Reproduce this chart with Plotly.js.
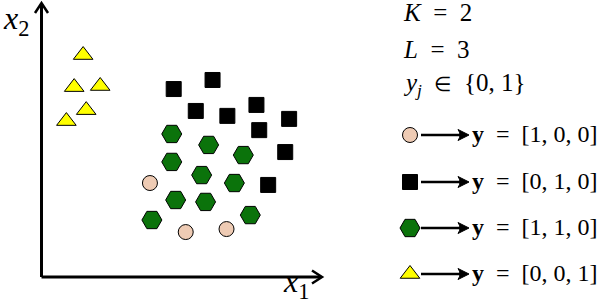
<!DOCTYPE html>
<html>
<head>
<meta charset="utf-8">
<script src="https://cdn.plot.ly/plotly-3.0.1.min.js"></script>
<style>html,body{margin:0;padding:0;background:#fff;}#chart{width:602px;height:304px;}</style>
</head>
<body>
<div id="chart"></div>
<script>
// ---- data (axis units 0..10) ----
const circleX = [3.88, 5.16, 6.62];
const circleY = [3.43, 1.64, 1.75];
const squareX = [4.73, 6.12, 5.52, 6.65, 7.69, 8.86, 7.79, 8.72, 8.11];
const squareY = [6.86, 7.19, 6.06, 5.88, 6.28, 5.77, 5.36, 4.56, 3.36];
const hexX = [4.66, 5.98, 7.22, 4.66, 5.73, 6.90, 4.80, 5.87, 7.47, 3.95];
const hexY = [5.22, 4.82, 4.45, 4.20, 3.72, 3.43, 2.81, 2.74, 2.26, 2.08];
const triX = [1.49, 1.17, 2.10, 1.60, 0.89];
const triY = [8.10, 6.93, 6.97, 6.09, 5.69];
const classLabels = ["[1, 0, 0]", "[0, 1, 0]", "[1, 1, 0]", "[0, 0, 1]"];
const infoLines = ["<i>K</i>\u2002=\u20022", "<i>L</i>\u2002=\u20023",
                   "<i>y<sub>j</sub></i>\u2002<span style=\"font-size:20px\">\u2208</span>\u2002{0, 1}"];

// ---- layout helpers (pixel -> paper) ----
const W = 602, H = 304;
const px = x => x / W;
const py = y => 1 - y / H;
const FONT = "Liberation Serif";

const styles = [
  {symbol: "circle", size: 15, color: "#EECBB4"},
  {symbol: "square", size: 15, color: "#000000"},
  {symbol: "hexagon2", size: 20, color: "#0B730B"},
  {symbol: "triangle-up", size: 17, color: "#FFFF00"}
];
const seriesX = [circleX, squareX, hexX, triX];
const seriesY = [circleY, squareY, hexY, triY];

const traces = seriesX.map((xs, i) => ({
  type: "scatter", mode: "markers", x: xs, y: seriesY[i],
  xaxis: "x", yaxis: "y", cliponaxis: false, hoverinfo: "skip",
  marker: {symbol: styles[i].symbol, size: styles[i].size, color: styles[i].color, opacity: 1,
           line: {color: "#000", width: 1}}
}));

// legend keys on a pixel-like overlay axis
const legendRowsY = [135, 182, 228, 274];
const legendKeyX = 410;
traces.push({
  type: "scatter", mode: "markers",
  x: legendRowsY.map(() => legendKeyX), y: legendRowsY,
  xaxis: "x2", yaxis: "y2", cliponaxis: false, hoverinfo: "skip",
  marker: {symbol: styles.map(s => s.symbol), size: styles.map(s => s.size), opacity: 1,
           color: styles.map(s => s.color), line: {color: "#000", width: 1}}
});

const shapes = [
  // axes
  {type: "line", xref: "paper", yref: "paper", x0: px(41.5), y0: py(277), x1: px(41.5), y1: py(4), line: {color: "#000", width: 3}},
  {type: "line", xref: "paper", yref: "paper", x0: px(41.5), y0: py(277), x1: px(321), y1: py(277), line: {color: "#000", width: 3}},
  // arrow heads
  {type: "path", xref: "paper", yref: "paper",
   path: `M ${px(35)} ${py(13)} L ${px(41.5)} ${py(3)} L ${px(48)} ${py(13)}`, line: {color: "#000", width: 2.5}},
  {type: "path", xref: "paper", yref: "paper",
   path: `M ${px(312)} ${py(270.5)} L ${px(322)} ${py(277)} L ${px(312)} ${py(283.5)}`, line: {color: "#000", width: 2.5}}
];
// legend arrows (long right arrows)
legendRowsY.forEach(yc => {
  shapes.push({type: "line", xref: "paper", yref: "paper", x0: px(421), y0: py(yc), x1: px(464), y1: py(yc),
               line: {color: "#000", width: 2.5}});
  shapes.push({type: "path", xref: "paper", yref: "paper",
               path: `M ${px(469)} ${py(yc)} L ${px(458)} ${py(yc - 5.5)} Q ${px(462)} ${py(yc)} ${px(458)} ${py(yc + 5.5)} Z`,
               fillcolor: "#000", line: {color: "#000", width: 1}});
});

const annotations = [
  {xref: "paper", yref: "paper", x: px(1), y: py(21), xanchor: "left", yanchor: "middle", showarrow: false,
   text: "<i>x</i><sub>2</sub>", font: {family: FONT, size: 32, color: "#000"}},
  {xref: "paper", yref: "paper", x: px(281), y: py(283), xanchor: "left", yanchor: "middle", showarrow: false,
   text: "<i>x</i><sub>1</sub>", font: {family: FONT, size: 32, color: "#000"}}
];
const infoRowsY = [13, 49, 85];
infoLines.forEach((t, i) => annotations.push({
  xref: "paper", yref: "paper", x: px(401), y: py(infoRowsY[i]), xanchor: "left", yanchor: "middle",
  showarrow: false, text: t, font: {family: FONT, size: 25, color: "#000"}
}));
classLabels.forEach((t, i) => {
  annotations.push({
    xref: "paper", yref: "paper", x: px(470), y: py(legendRowsY[i] - 1), xanchor: "left", yanchor: "middle",
    showarrow: false, text: "<b>y</b>\u2002=\u2002" + t, font: {family: FONT, size: 24, color: "#000"}
  });
});

const hidden = {visible: false, fixedrange: true};
const layout = {
  width: W, height: H, margin: {l: 0, r: 0, t: 0, b: 0},
  paper_bgcolor: "#fff", plot_bgcolor: "rgba(0,0,0,0)", showlegend: false,
  xaxis: Object.assign({domain: [41.5 / W, 321 / W], range: [0, 10]}, hidden),
  yaxis: Object.assign({domain: [27 / H, 301 / H], range: [0, 10]}, hidden),
  xaxis2: Object.assign({domain: [0, 1], range: [0, W], anchor: "y2"}, hidden),
  yaxis2: Object.assign({domain: [0, 1], range: [H, 0], anchor: "x2"}, hidden),
  shapes: shapes, annotations: annotations
};
Plotly.newPlot("chart", traces, layout, {staticPlot: true, displayModeBar: false});
</script>
</body>
</html>
